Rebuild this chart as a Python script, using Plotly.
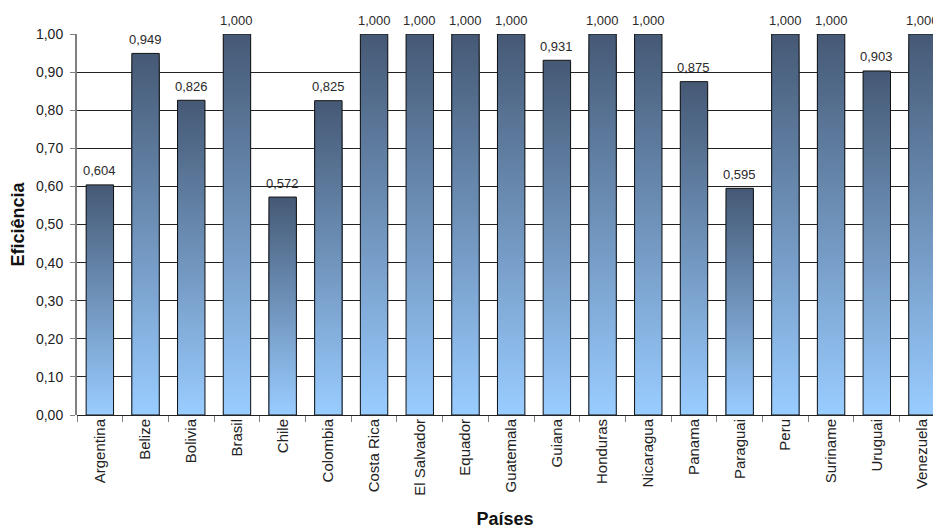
import plotly.graph_objects as go

# Efficiency score per country
paises = ["Argentina", "Belize", "Bolivia", "Brasil", "Chile", "Colombia",
          "Costa Rica", "El Salvador", "Equador", "Guatemala", "Guiana",
          "Honduras", "Nicaragua", "Panama", "Paraguai", "Peru", "Suriname",
          "Uruguai", "Venezuela"]
eficiencia = [0.604, 0.949, 0.826, 1.000, 0.572, 0.825, 1.000, 1.000, 1.000,
              1.000, 0.931, 1.000, 1.000, 0.875, 0.595, 1.000, 1.000, 0.903,
              1.000]

FONT = "Liberation Sans, Arial, sans-serif"
TOP_RGB = (70, 90, 118)       # dark slate at the top of each bar
BOTTOM_RGB = (153, 204, 255)  # light blue at the base
N_STEPS = 80


def blend(t):
    r, g, b = (round(TOP_RGB[i] + (BOTTOM_RGB[i] - TOP_RGB[i]) * t) for i in range(3))
    return f"rgb({r},{g},{b})"


fig = go.Figure()

# Vertical gradient: overlaid bars, each shorter and lighter than the last
for k in range(N_STEPS):
    frac = (N_STEPS - k) / N_STEPS
    fig.add_trace(go.Bar(
        x=paises,
        y=[v * frac for v in eficiencia],
        marker=dict(color=blend(k / (N_STEPS - 1)), line=dict(width=0)),
        hoverinfo="skip",
        showlegend=False,
    ))

# Outline of each bar
fig.add_trace(go.Bar(
    x=paises,
    y=eficiencia,
    marker=dict(color="rgba(0,0,0,0)", line=dict(color="#111111", width=1)),
    showlegend=False,
))

# Value labels above the bars (comma as decimal separator)
for p, v in zip(paises, eficiencia):
    fig.add_annotation(
        x=p, y=v, xref="x", yref="y",
        text=f"{v:.3f}".replace(".", ","),
        showarrow=False,
        yanchor="middle",
        yshift=14,
        font=dict(family=FONT, size=13, color="#2a2a2a"),
    )

fig.update_layout(
    width=933,
    height=529,
    margin=dict(l=77, r=0, t=34, b=114),
    paper_bgcolor="white",
    plot_bgcolor="white",
    barmode="overlay",
    bargap=0.4,
    separators=",.",
    font=dict(family=FONT, size=14, color="#222222"),
    xaxis=dict(
        type="category",
        range=[-0.5, 18.23],
        tickson="boundaries",
        ticks="outside",
        ticklen=6,
        tickcolor="#808080",
        tickangle=-90,
        tickfont=dict(size=15),
        showgrid=False,
        showline=False,
        zeroline=False,
        title=dict(text="<b>Países</b>", font=dict(size=18, color="#111111"), standoff=21),
        automargin=False,
    ),
    yaxis=dict(
        range=[0, 1],
        dtick=0.1,
        tickformat=".2f",
        ticks="outside",
        ticklen=5,
        tickcolor="#808080",
        tickfont=dict(size=14),
        ticklabelstandoff=4,
        showgrid=True,
        gridcolor="#222222",
        gridwidth=1,
        showline=True,
        linecolor="#808080",
        linewidth=2,
        zeroline=True,
        zerolinecolor="#222222",
        zerolinewidth=1,
        title=dict(text="<b>Eficiência</b>", font=dict(size=18, color="#111111"), standoff=7),
        automargin=False,
    ),
)

fig.write_html("out.html")
